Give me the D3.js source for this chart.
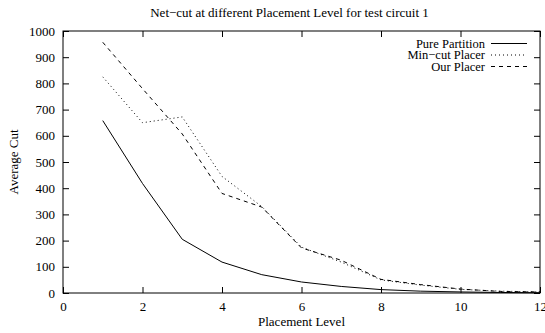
<!DOCTYPE html>
<html><head><meta charset="utf-8">
<script src="https://cdn.jsdelivr.net/npm/d3@7"></script>
<style>body{margin:0;background:#fff}svg{display:block}text{font-family:"Liberation Serif","Times New Roman",serif;fill:#000}</style>
</head><body><svg id="c" width="545" height="333"></svg>
<script>
const levels = [1,2,3,4,5,6,7,8,9,10,11,12];
const purePartition = [658,418,205,118,70,42,25,13,7,4,2,1];
const minCutPlacer = [825,650,672,445,330,175,118,50,30,14,7,4];
const ourPlacer = [957,780,607,380,328,172,125,52,32,15,6,4];
const seriesNames = ["Pure Partition","Min\u2212cut Placer","Our Placer"];
const xTicks = [0,2,4,6,8,10,12];
const yTicks = [0,100,200,300,400,500,600,700,800,900,1000];

const svg = d3.select("#c");
const L=63, R=540, T=31, B=293;
const x = d3.scaleLinear().domain([0,12]).range([L,R]);
const y = d3.scaleLinear().domain([0,1000]).range([B,T]);
const FS="13px";

const g = svg.append("g");
g.append("rect").attr("x",L).attr("y",T).attr("width",R-L).attr("height",B-T)
 .attr("fill","none").attr("stroke","#000").attr("stroke-width",1);

const tl=6, fmt=d3.format("d");
const bx = g.append("g").attr("transform",`translate(0,${B})`)
 .call(d3.axisBottom(x).tickValues(xTicks).tickFormat(fmt).tickSizeInner(-tl).tickSizeOuter(0).tickPadding(9));
const tx = g.append("g").attr("transform",`translate(0,${T})`)
 .call(d3.axisTop(x).tickValues(xTicks).tickSizeInner(-tl).tickSizeOuter(0).tickFormat(""));
const ly = g.append("g").attr("transform",`translate(${L},0)`)
 .call(d3.axisLeft(y).tickValues(yTicks).tickFormat(fmt).tickSizeInner(-tl).tickSizeOuter(0).tickPadding(8));
const ry = g.append("g").attr("transform",`translate(${R},0)`)
 .call(d3.axisRight(y).tickValues(yTicks).tickSizeInner(-tl).tickSizeOuter(0).tickFormat(""));
[bx,tx,ly,ry].forEach(a=>{a.select(".domain").remove();a.selectAll("line").attr("stroke","#000");
 a.selectAll("text").style("font-size",FS).attr("fill","#000");});

const series=[purePartition,minCutPlacer,ourPlacer];
const dashes=[null,"1,3","4,4"];
const line=d3.line().x((d,i)=>x(levels[i])).y(d=>y(d));
series.forEach((s,k)=>{
 g.append("path").datum(s).attr("d",line).attr("fill","none").attr("stroke","#000")
  .attr("stroke-width",1).attr("stroke-dasharray",dashes[k]);
});

const ry0=[43.5,55,66.5];
seriesNames.forEach((n,k)=>{
 g.append("text").attr("x",485).attr("y",ry0[k]+4).attr("text-anchor","end")
  .style("font-size","12.5px").text(n);
 g.append("line").attr("x1",491).attr("x2",527).attr("y1",ry0[k]).attr("y2",ry0[k])
  .attr("stroke","#000").attr("stroke-width",1).attr("stroke-dasharray",dashes[k]);
});

svg.append("text").attr("x",(L+R)/2-12).attr("y",17).attr("text-anchor","middle")
 .style("font-size",FS).text("Net\u2212cut at different Placement Level for test circuit 1");
svg.append("text").attr("x",(L+R)/2).attr("y",326).attr("text-anchor","middle")
 .style("font-size",FS).text("Placement Level");
svg.append("text").attr("transform",`translate(18,${(T+B)/2}) rotate(-90)`).attr("text-anchor","middle")
 .style("font-size",FS).text("Average Cut");
</script></body></html>
